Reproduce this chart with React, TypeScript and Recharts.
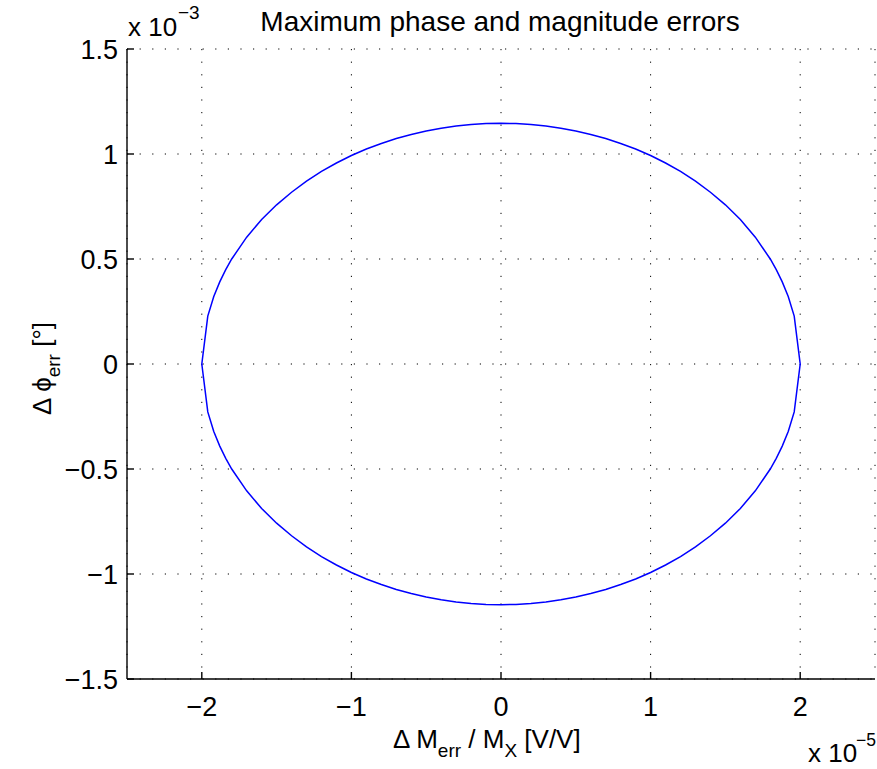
import React from 'react';
import { LineChart, Line, XAxis, YAxis, CartesianGrid } from 'recharts';

// x in units of 1e-5 V/V, y in units of 1e-3 degrees
const upperX = [-2, -1.96, -1.92, -1.88, -1.84, -1.8, -1.7, -1.6, -1.5, -1.4, -1.3, -1.2, -1.1, -1.0, -0.9, -0.8, -0.7, -0.6, -0.5, -0.4, -0.3, -0.2, -0.1, 0, 0.1, 0.2, 0.3, 0.4, 0.5, 0.6, 0.7, 0.8, 0.9, 1.0, 1.1, 1.2, 1.3, 1.4, 1.5, 1.6, 1.7, 1.8, 1.84, 1.88, 1.92, 1.96, 2];
const upperY = [0, 0.228, 0.321, 0.391, 0.449, 0.5, 0.604, 0.688, 0.758, 0.818, 0.871, 0.917, 0.957, 0.993, 1.024, 1.05, 1.074, 1.093, 1.11, 1.123, 1.133, 1.14, 1.145, 1.146, 1.145, 1.14, 1.133, 1.123, 1.11, 1.093, 1.074, 1.05, 1.024, 0.993, 0.957, 0.917, 0.871, 0.818, 0.758, 0.688, 0.604, 0.5, 0.449, 0.391, 0.321, 0.228, 0];
const lowerX = [2, 1.96, 1.92, 1.88, 1.84, 1.8, 1.7, 1.6, 1.5, 1.4, 1.3, 1.2, 1.1, 1.0, 0.9, 0.8, 0.7, 0.6, 0.5, 0.4, 0.3, 0.2, 0.1, 0, -0.1, -0.2, -0.3, -0.4, -0.5, -0.6, -0.7, -0.8, -0.9, -1.0, -1.1, -1.2, -1.3, -1.4, -1.5, -1.6, -1.7, -1.8, -1.84, -1.88, -1.92, -1.96, -2];
const lowerY = [0, -0.228, -0.321, -0.391, -0.449, -0.5, -0.604, -0.688, -0.758, -0.818, -0.871, -0.917, -0.957, -0.993, -1.024, -1.05, -1.074, -1.093, -1.11, -1.123, -1.133, -1.14, -1.145, -1.146, -1.145, -1.14, -1.133, -1.123, -1.11, -1.093, -1.074, -1.05, -1.024, -0.993, -0.957, -0.917, -0.871, -0.818, -0.758, -0.688, -0.604, -0.5, -0.449, -0.391, -0.321, -0.228, 0];

const xTicks = [-2, -1, 0, 1, 2];
const yTicks = [-1.5, -1, -0.5, 0, 0.5, 1, 1.5];

const titleText = 'Maximum phase and magnitude errors';

const data = [
  ...upperX.map((x, i) => ({ x, y: upperY[i] })),
  ...lowerX.map((x, i) => ({ x, y: lowerY[i] })),
];

const FONT = '"Liberation Sans", Arial, Helvetica, sans-serif';
const fmt = (v: number) => (v < 0 ? '\u2212' + String(Math.abs(v)) : String(v));
const blank = () => '';
const tickStyle = { fontSize: 27, fill: '#000', fontFamily: FONT };
const lineStyle = { stroke: '#000', strokeWidth: 1.4 };

export default function App() {
  return (
    <div style={{ position: 'absolute', left: 0, top: 0, width: 877, height: 769, background: '#fff' }}>
      <LineChart width={877} height={769} data={data} margin={{ top: 49, right: 2, bottom: 0, left: 0 }}>
        <CartesianGrid stroke="#000" strokeDasharray="1.2 11.4" strokeWidth={1} />
        <XAxis
          dataKey="x"
          type="number"
          domain={[-2.5, 2.5]}
          ticks={xTicks}
          allowDataOverflow
          height={90}
          tickSize={-7}
          tickMargin={25}
          tickFormatter={fmt}
          tick={tickStyle}
          axisLine={lineStyle}
          tickLine={lineStyle}
        />
        <XAxis
          xAxisId="top"
          orientation="top"
          dataKey="x"
          type="number"
          domain={[-2.5, 2.5]}
          ticks={xTicks}
          allowDataOverflow
          height={0}
          tickSize={-6}
          tickFormatter={blank}
          axisLine={lineStyle}
          tickLine={lineStyle}
        />
        <YAxis
          dataKey="y"
          type="number"
          domain={[-1.5, 1.5]}
          ticks={yTicks}
          allowDataOverflow
          width={127}
          tickSize={-7}
          tickMargin={16}
          tickFormatter={fmt}
          tick={tickStyle}
          axisLine={lineStyle}
          tickLine={lineStyle}
        />
        <YAxis
          yAxisId="right"
          orientation="right"
          dataKey="y"
          type="number"
          domain={[-1.5, 1.5]}
          ticks={yTicks}
          allowDataOverflow
          width={0}
          tickSize={-6}
          tickFormatter={blank}
          axisLine={lineStyle}
          tickLine={lineStyle}
        />
        <Line
          type="linear"
          dataKey="y"
          stroke="#0000ff"
          strokeWidth={1.5}
          dot={false}
          activeDot={false}
          isAnimationActive={false}
        />
      </LineChart>
      <svg
        width={877}
        height={769}
        style={{ position: 'absolute', left: 0, top: 0, pointerEvents: 'none' }}
        fontFamily={FONT}
      >
        <text x={500} y={31} textAnchor="middle" fontSize={28} fill="#000">{titleText}</text>
        <text x={128} y={36} fontSize={26} fill="#000">x 10</text>
        <text x={178} y={19} fontSize={19} fill="#000">{'\u22123'}</text>
        <text x={808} y={762} fontSize={26} fill="#000">x 10</text>
        <text x={856} y={746} fontSize={17.5} fill="#000">{'\u22125'}</text>
        <text x={393} y={748} fontSize={26} fill="#000">
          <tspan>{'\u0394 M'}</tspan>
          <tspan fontSize={19} dy={9}>err</tspan>
          <tspan dy={-9}>{' / M'}</tspan>
          <tspan fontSize={19} dy={9}>X</tspan>
          <tspan dy={-9}>{' [V/V]'}</tspan>
        </text>
        <text transform="translate(51,415) rotate(-90)" x={0} y={0} fontSize={26} fill="#000">
          <tspan>{'\u0394 \u03d5'}</tspan>
          <tspan fontSize={19} dy={9}>err</tspan>
          <tspan dy={-9}>{' [\u00b0]'}</tspan>
        </text>
      </svg>
    </div>
  );
}
